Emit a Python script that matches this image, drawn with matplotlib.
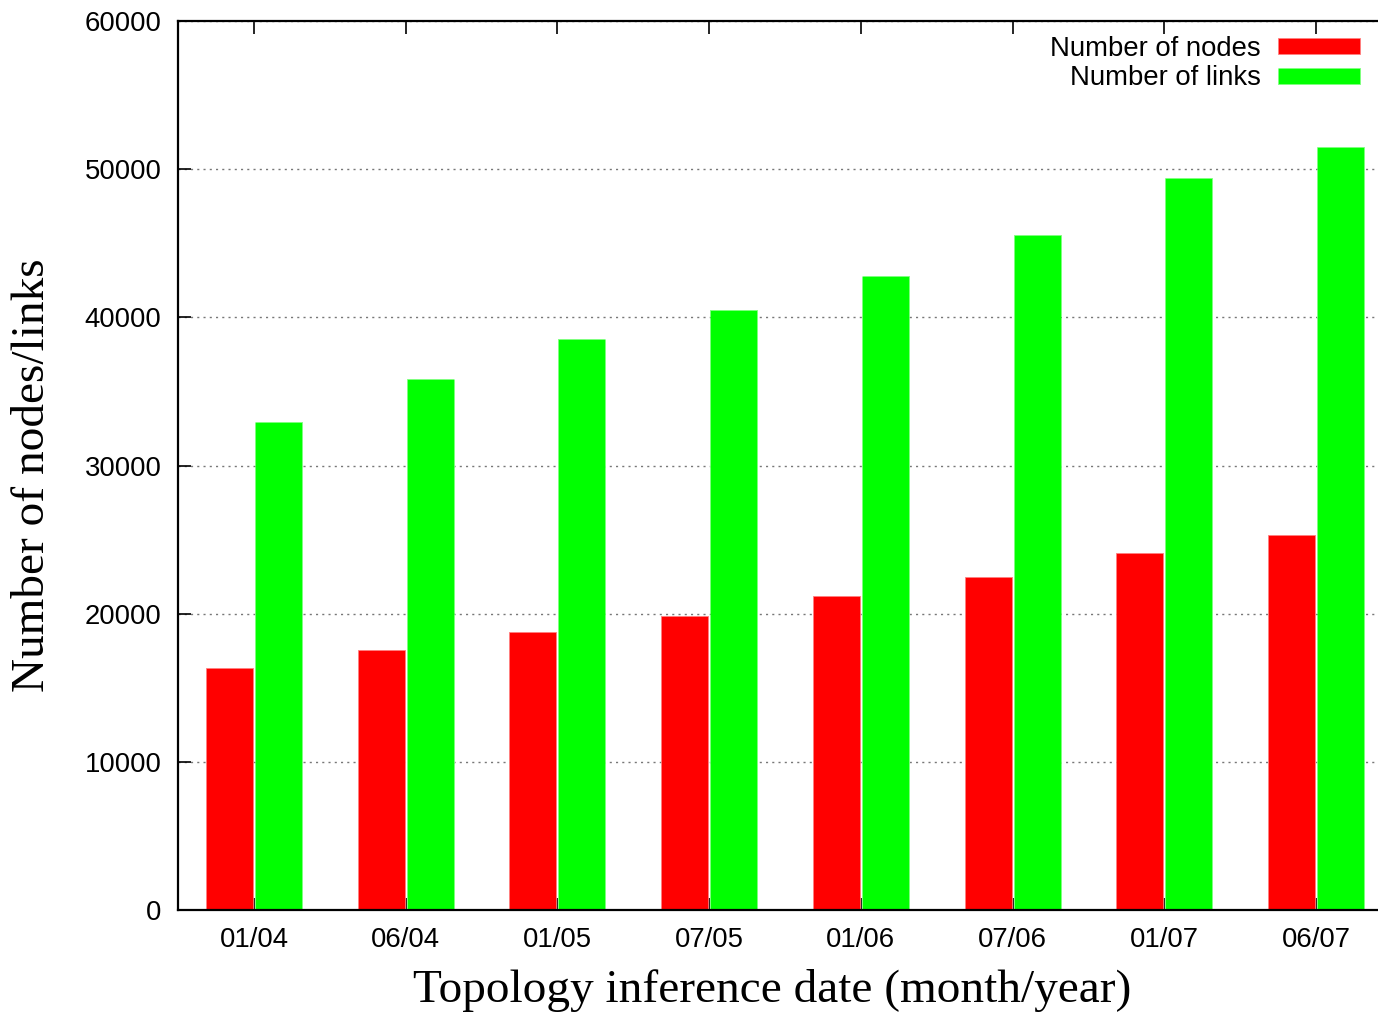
import matplotlib
matplotlib.use("Agg")
import matplotlib.pyplot as plt
import numpy as np

dates = ["01/04", "06/04", "01/05", "07/05", "01/06", "07/06", "01/07", "06/07"]
nodes = [16330, 17550, 18760, 19850, 21200, 22480, 24100, 25310]
links = [32940, 35840, 38540, 40500, 42790, 45560, 49400, 51500]

W, H = 1378, 1015
fig = plt.figure(figsize=(W / 100, H / 100), dpi=100)
# axes runs a little past the right edge of the picture (cropped like the original)
ax = fig.add_axes([178 / W, 1 - 910 / H, (1392 - 178) / W, (910 - 21) / H])

x = np.arange(len(dates))
w = 0.31
ax.bar(x - 0.006, nodes, width=-w, align="edge", color="#ff0000",
       edgecolor="#ff8080", linewidth=0.6, label="Number of nodes")
ax.bar(x + 0.006, links, width=w, align="edge", color="#00ff00",
       edgecolor="#80ff80", linewidth=0.6, linestyle="--", label="Number of links")

ax.set_xlim(-0.5, 7.5)
ax.set_ylim(0, 60000)
ax.set_xticks(x)
ax.set_xticklabels(dates)
ax.set_yticks(np.arange(0, 60001, 10000))
ax.set_axisbelow(True)
ax.yaxis.grid(True, linestyle=(0, (1.5, 3)), color="#777777", linewidth=1.0)

tick_font = "Liberation Sans"
for lab in ax.get_xticklabels() + ax.get_yticklabels():
    lab.set_fontfamily(tick_font)
    lab.set_fontsize(19.8)
ax.tick_params(axis="both", direction="in", length=9, width=1.2,
               top=True, right=True)
ax.tick_params(axis="y", pad=12)
ax.tick_params(axis="x", pad=12)

for s in ["left", "bottom", "top"]:
    ax.spines[s].set_linewidth(1.6)
ax.spines["right"].set_visible(False)

leg = ax.legend(loc="upper right", bbox_to_anchor=(1360 / W, 1 - 36 / H),
                bbox_transform=fig.transFigure, frameon=False, markerfirst=False,
                prop={"family": tick_font, "size": 19.8}, handlelength=3.0,
                handleheight=0.52, handletextpad=0.6, labelspacing=0.12,
                borderpad=0, borderaxespad=0)

fig.text(33 / W, 1 - 475 / H, "Number of nodes/links", rotation=90,
         ha="center", va="center", family="Liberation Serif", fontsize=34)
fig.text(772 / W, 1 - 990 / H, "Topology inference date (month/year)",
         ha="center", va="center", family="Liberation Serif", fontsize=34)

fig.savefig("out.png", dpi=100)
